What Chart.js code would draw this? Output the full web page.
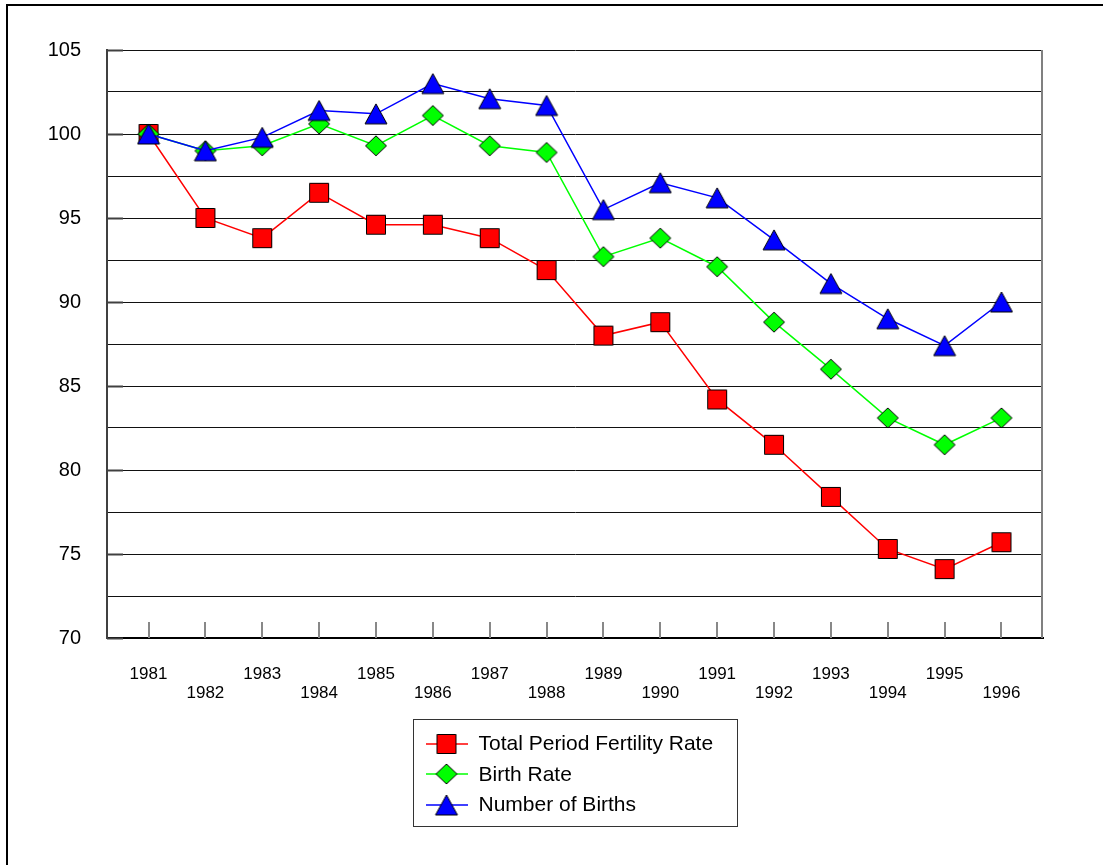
<!DOCTYPE html>
<html>
<head>
<meta charset="utf-8">
<script src="https://cdn.jsdelivr.net/npm/chart.js@4"></script>
<style>
    body { margin: 0; background: #fff; overflow: hidden; }
    #wrap { position: relative; width: 1103px; height: 865px; }
    #frame {
        position: absolute; left: 6px; top: 4px; width: 1110px; height: 880px;
        border-left: 2px solid #000; border-top: 2px solid #000;
    }
    #chart { position: absolute; left: 0; top: 0; }
</style>
</head>
<body>
<div id="wrap">
    <div id="frame"></div>
    <canvas id="chart" width="1103" height="865"></canvas>
</div>
<script>
const years = [1981, 1982, 1983, 1984, 1985, 1986, 1987, 1988, 1989, 1990, 1991, 1992, 1993, 1994, 1995, 1996];
const fertilityRate = [100, 95.0, 93.8, 96.5, 94.6, 94.6, 93.8, 91.9, 88.0, 88.8, 84.2, 81.5, 78.4, 75.3, 74.1, 75.7];
const birthRate = [100, 99.0, 99.3, 100.6, 99.3, 101.1, 99.3, 98.9, 92.7, 93.8, 92.1, 88.8, 86.0, 83.1, 81.5, 83.1];
const numberOfBirths = [100, 99.0, 99.8, 101.4, 101.2, 103.0, 102.1, 101.7, 95.5, 97.1, 96.2, 93.7, 91.1, 89.0, 87.4, 90.0];
const yLabels = [70, 75, 80, 85, 90, 95, 100, 105];

const FONT = '"Liberation Sans", Arial, sans-serif';
const X_PAD = 0.73; // space either side of the first/last year, in years

// Excel-style markers, drawn onto small canvases so they sit centred on the point
function makeMarker(kind, color, lineLen = 0) {
    const size = 24;
    const c = document.createElement('canvas');
    c.width = lineLen || size;
    c.height = size;
    const g = c.getContext('2d');
    const cx = c.width / 2, cy = size / 2;
    if (lineLen) {
        g.strokeStyle = color;
        g.lineWidth = 1.5;
        g.beginPath();
        g.moveTo(0, cy);
        g.lineTo(c.width, cy);
        g.stroke();
    }
    g.fillStyle = color;
    g.strokeStyle = '#000';
    g.lineWidth = 1;
    g.beginPath();
    if (kind === 'square') {
        g.rect(cx - 9.5, cy - 9.5, 19, 19);
    } else if (kind === 'diamond') {
        g.moveTo(cx, cy - 10);
        g.lineTo(cx + 10.5, cy);
        g.lineTo(cx, cy + 10);
        g.lineTo(cx - 10.5, cy);
        g.closePath();
    } else {
        g.moveTo(cx, cy - 10);
        g.lineTo(cx + 11, cy + 10);
        g.lineTo(cx - 11, cy + 10);
        g.closePath();
    }
    g.fill();
    g.stroke();
    return c;
}

const series = [
    { label: 'Total Period Fertility Rate', values: fertilityRate, color: '#ff0000', marker: 'square', order: 3 },
    { label: 'Birth Rate', values: birthRate, color: '#00ff00', marker: 'diamond', order: 2 },
    { label: 'Number of Births', values: numberOfBirths, color: '#0000ff', marker: 'triangle', order: 1 }
];

// Extra frame pieces: right edge, inner tick marks and the boxed legend
const framePlugin = {
    id: 'framePlugin',
    afterDraw(chart) {
        const { ctx, chartArea: area, scales } = chart;
        ctx.save();

        ctx.strokeStyle = '#808080';
        ctx.lineWidth = 2;
        ctx.beginPath();
        ctx.moveTo(area.right - 1, area.top);
        ctx.lineTo(area.right - 1, area.bottom);
        ctx.stroke();

        ctx.strokeStyle = '#888';
        ctx.lineWidth = 2;
        years.forEach(yr => {
            const x = Math.round(scales.x.getPixelForValue(yr));
            ctx.beginPath();
            ctx.moveTo(x, area.bottom - 16);
            ctx.lineTo(x, area.bottom);
            ctx.stroke();
        });

        ctx.strokeStyle = '#404040';
        yLabels.forEach(v => {
            const y = Math.round(scales.y.getPixelForValue(v)) + 0.5;
            ctx.beginPath();
            ctx.moveTo(area.left, y);
            ctx.lineTo(area.left + 16, y);
            ctx.stroke();
        });

        // legend box
        const boxW = 324, boxH = 107;
        const boxX = Math.round((area.left + area.right) / 2 - boxW / 2) + 0.5;
        const boxY = area.bottom + 81.5;
        ctx.strokeStyle = '#333';
        ctx.lineWidth = 1;
        ctx.strokeRect(boxX, boxY, boxW, boxH);

        ctx.font = '21px ' + FONT;
        ctx.fillStyle = '#000';
        ctx.textBaseline = 'middle';
        ctx.textAlign = 'left';
        chart.data.datasets.forEach((ds, i) => {
            const cy = boxY + 24 + i * 30.5;
            const icon = ds.legendIcon;
            ctx.drawImage(icon, boxX + 12, Math.round(cy - icon.height / 2));
            ctx.fillText(ds.label, boxX + 65, cy + 1);
        });
        ctx.restore();
    }
};

const ctx = document.getElementById('chart').getContext('2d');
const chart = new Chart(ctx, {
    type: 'line',
    data: {
        datasets: series.map(s => ({
            label: s.label,
            data: years.map((yr, i) => ({ x: yr, y: s.values[i] })),
            borderColor: s.color,
            borderWidth: 1.5,
            pointStyle: makeMarker(s.marker, s.color),
            legendIcon: makeMarker(s.marker, s.color, 42),
            order: s.order,
            tension: 0,
            fill: false
        }))
    },
    options: {
        responsive: false,
        animation: false,
        layout: { padding: { top: 50, right: 60, bottom: 140, left: 0 } },
        scales: {
            x: {
                type: 'linear',
                min: years[0] - X_PAD,
                max: years[years.length - 1] + X_PAD,
                afterFit: (scale) => { scale.height = 87; },
                afterBuildTicks: (scale) => { scale.ticks = years.map(v => ({ value: v })); },
                grid: { drawOnChartArea: false, drawTicks: false },
                border: { display: true, color: '#000', width: 2 },
                ticks: {
                    autoSkip: false,
                    maxRotation: 0,
                    padding: 27,
                    color: '#000',
                    font: { family: FONT, size: 17, lineHeight: 1.12 },
                    callback: (value, index) => index % 2 === 0 ? String(value) : ['', String(value)]
                }
            },
            y: {
                min: 70,
                max: 105,
                afterFit: (scale) => { scale.width = 107; },
                grid: { color: '#111', lineWidth: 1, drawTicks: false },
                border: { display: true, color: '#404040', width: 2 },
                ticks: {
                    stepSize: 2.5,
                    autoSkip: false,
                    padding: 26,
                    color: '#000',
                    font: { family: FONT, size: 20 },
                    callback: (value) => yLabels.includes(value) ? String(value) : ''
                }
            }
        },
        plugins: {
            legend: { display: false },
            tooltip: { enabled: false }
        }
    },
    plugins: [framePlugin]
});
</script>
</body>
</html>
